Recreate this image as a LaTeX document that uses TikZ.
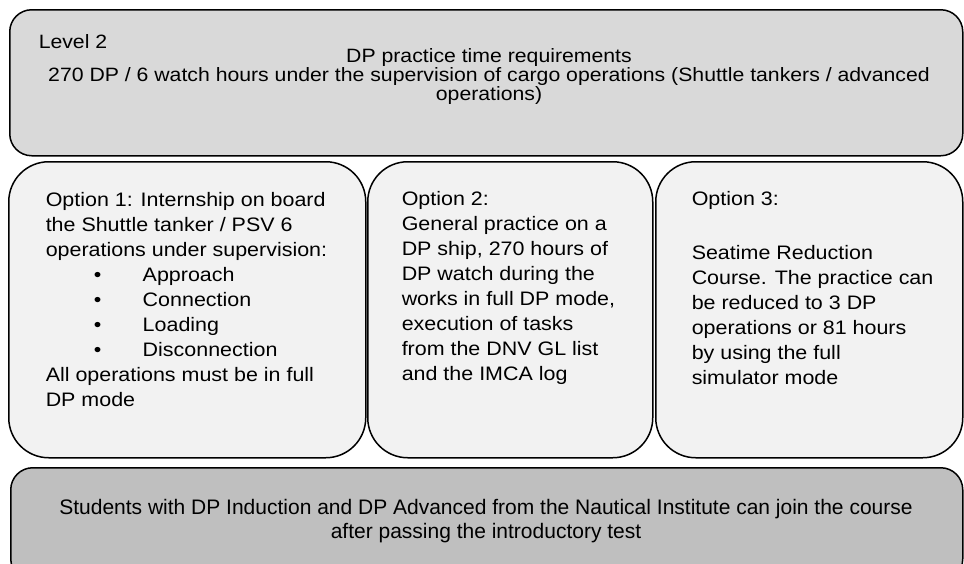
\documentclass[tikz,border=0pt]{standalone}
\usepackage{fontspec}
\setmainfont{Liberation Sans}
\newfontfamily\widefont[FakeStretch=1.1]{Liberation Sans}
\usepackage{tikz}

\begin{document}
\begin{tikzpicture}[x=1pt, y=-1pt, line width=1.5pt,
    levelbox/.style={draw=black, fill=black!15, rounded corners=22pt, anchor=north west, inner sep=0pt},
    optbox/.style={draw=black, fill=black!5, rounded corners=40pt, anchor=north west, inner sep=0pt},
    notebox/.style={draw=black, fill=black!25, rounded corners=22pt, anchor=north west, inner sep=0pt},
    toptext/.style={inner sep=0pt, font=\widefont\fontsize{19.3}{17}\selectfont},
    opttext/.style={inner sep=0pt, align=left, anchor=base west, font=\widefont\fontsize{19.5}{25}\selectfont}]

    \useasboundingbox (0,0) rectangle (964,563);

    % caixas
    \node[levelbox, minimum width=953pt, minimum height=146pt] (level) at (9,9) {};
    \node[optbox, minimum width=357pt, minimum height=296pt] (optone) at (8,161) {};
    \node[optbox, minimum width=285pt, minimum height=296pt] (opttwo) at (367,161) {};
    \node[optbox, minimum width=307pt, minimum height=296pt] (optthree) at (655,161) {};
    \node[notebox, minimum width=952pt, minimum height=113pt] (note) at (10,467) {};

    % textos (ancorados na linha de base da ultima linha)
    \node[toptext, anchor=base west] (leveltag) at (38,48) {Level 2};
    \node[toptext, anchor=base, align=center] (leveltxt) at (489,100)
        {DP practice time requirements\\
         270 DP / 6 watch hours under the supervision of cargo operations (Shuttle tankers / advanced\\
         operations)};

    \node[opttext] (optonetxt) at (45,406)
        {Option 1: Internship on board\\
         the Shuttle tanker / PSV 6\\
         operations under supervision:\\
         \hspace*{48pt}\makebox[49pt][l]{\textbullet}Approach\\
         \hspace*{48pt}\makebox[49pt][l]{\textbullet}Connection\\
         \hspace*{48pt}\makebox[49pt][l]{\textbullet}Loading\\
         \hspace*{48pt}\makebox[49pt][l]{\textbullet}Disconnection\\
         All operations must be in full\\
         DP mode};

    \node[opttext] (opttwotxt) at (401,380)
        {Option 2:\\
         General practice on a\\
         DP ship, 270 hours of\\
         DP watch during the\\
         works in full DP mode,\\
         execution of tasks\\
         from the DNV GL list\\
         and the IMCA log};

    \node[opttext] (optthreetag) at (691,205) {Option 3:};
    \node[opttext] (optthreetxt) at (691,384)
        {Seatime Reduction\\
         Course. The practice can\\
         be reduced to 3 DP\\
         operations or 81 hours\\
         by using the full\\
         simulator mode};

    \node[inner sep=0pt, anchor=base, align=center, font=\fontsize{21}{24}\selectfont] (notetxt) at (486,538)
        {Students with DP Induction and DP Advanced from the Nautical Institute can join the course\\
         after passing the introductory test};

\end{tikzpicture}
\end{document}
